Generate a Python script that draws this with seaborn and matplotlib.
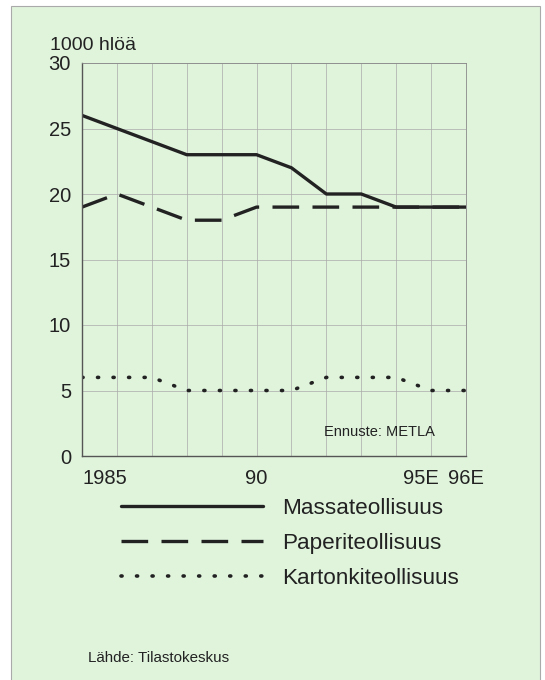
import matplotlib.pyplot as plt
import matplotlib.patches as mpatches
import pandas as pd
import seaborn as sns

# Data (1000 persons)
years = list(range(1985, 1997))
massa = [26, 25, 24, 23, 23, 23, 22, 20, 20, 19, 19, 19]
paperi = [19, 20, 19, 18, 18, 19, 19, 19, 19, 19, 19, 19]
kartonki = [6, 6, 6, 5, 5, 5, 5, 6, 6, 6, 5, 5]
series_names = ['Massateollisuus', 'Paperiteollisuus', 'Kartonkiteollisuus']
xtick_labels = {1985: '1985', 1990: '90', 1996: '96E'}
label_1995 = '95E'

df = pd.DataFrame({'year': years * 3,
                   'value': massa + paperi + kartonki,
                   'series': [s for s in series_names for _ in years]})

sns.set_style('white')
plt.rcParams['font.family'] = ['Liberation Sans', 'DejaVu Sans']

bg = '#e0f4dc'
ink = '#222222'

fig = plt.figure(figsize=(5.45, 6.8), dpi=100, facecolor='white')
# green panel behind everything
fig.patches.append(mpatches.Rectangle((11 / 545, -0.01), 529 / 545, 1 - 6 / 680 + 0.01,
                                      transform=fig.transFigure, facecolor=bg,
                                      edgecolor='#aaaaaa', lw=0.8, zorder=-10))

ax = fig.add_axes([82 / 545, 1 - 456 / 680, 384 / 545, 393 / 680])
ax.set_facecolor(bg)

sns.lineplot(data=df, x='year', y='value', style='series', style_order=series_names,
             dashes={'Massateollisuus': '', 'Paperiteollisuus': (8, 4),
                     'Kartonkiteollisuus': (0.3, 4.0)},
             color=ink, linewidth=2.4, legend=False, ax=ax)
lines = ax.get_lines()
lines[2].set_dash_capstyle('round')
lines[2].set_linewidth(2.6)

ax.set_xlim(1985, 1996)
ax.set_ylim(0, 30)
ax.set_xticks(years)
ax.set_xticklabels([xtick_labels.get(y, '') for y in years], fontsize=14.5, color=ink)
ax.set_yticks(range(0, 31, 5))
ax.set_yticklabels([str(v) for v in range(0, 31, 5)], fontsize=14.5, color=ink)
ax.get_xticklabels()[0].set_horizontalalignment('left')
ax.tick_params(axis='both', direction='out', length=6, width=0.9, color='#555555', pad=2)
ax.tick_params(axis='x', pad=3)
# "95E" sits a little left of its tick so it clears "96E"
ax.annotate(label_1995, xy=(1995, 0), xycoords=('data', 'axes fraction'),
            xytext=(-7, -9), textcoords='offset points', ha='center', va='top',
            fontsize=14.5, color=ink)
ax.set_xlabel('')
ax.set_ylabel('')
ax.grid(True, color='#aaaaaa', lw=0.5)
for side in ['left', 'bottom']:
    ax.spines[side].set_color('#555555')
    ax.spines[side].set_linewidth(1.0)
for side in ['top', 'right']:
    ax.spines[side].set_color('#888888')
    ax.spines[side].set_linewidth(0.6)

ax.text(1995.1, 1.8, 'Ennuste: METLA', fontsize=10.5, ha='right', va='center', color=ink)
fig.text(50 / 545, 1 - 45 / 680, '1000 hlöä', fontsize=14, ha='left', va='center', color=ink)

fig.legend(handles=lines, labels=series_names, loc='upper left',
           bbox_to_anchor=(101 / 545, 1 - 478 / 680), frameon=False, fontsize=16.2,
           handlelength=6.3, handletextpad=0.85, labelspacing=0.62, labelcolor=ink)

fig.text(88 / 545, 1 - 658 / 680, 'Lähde: Tilastokeskus', fontsize=10.9, ha='left',
         va='center', color=ink)

fig.savefig('out.png', dpi=100, facecolor='white')
